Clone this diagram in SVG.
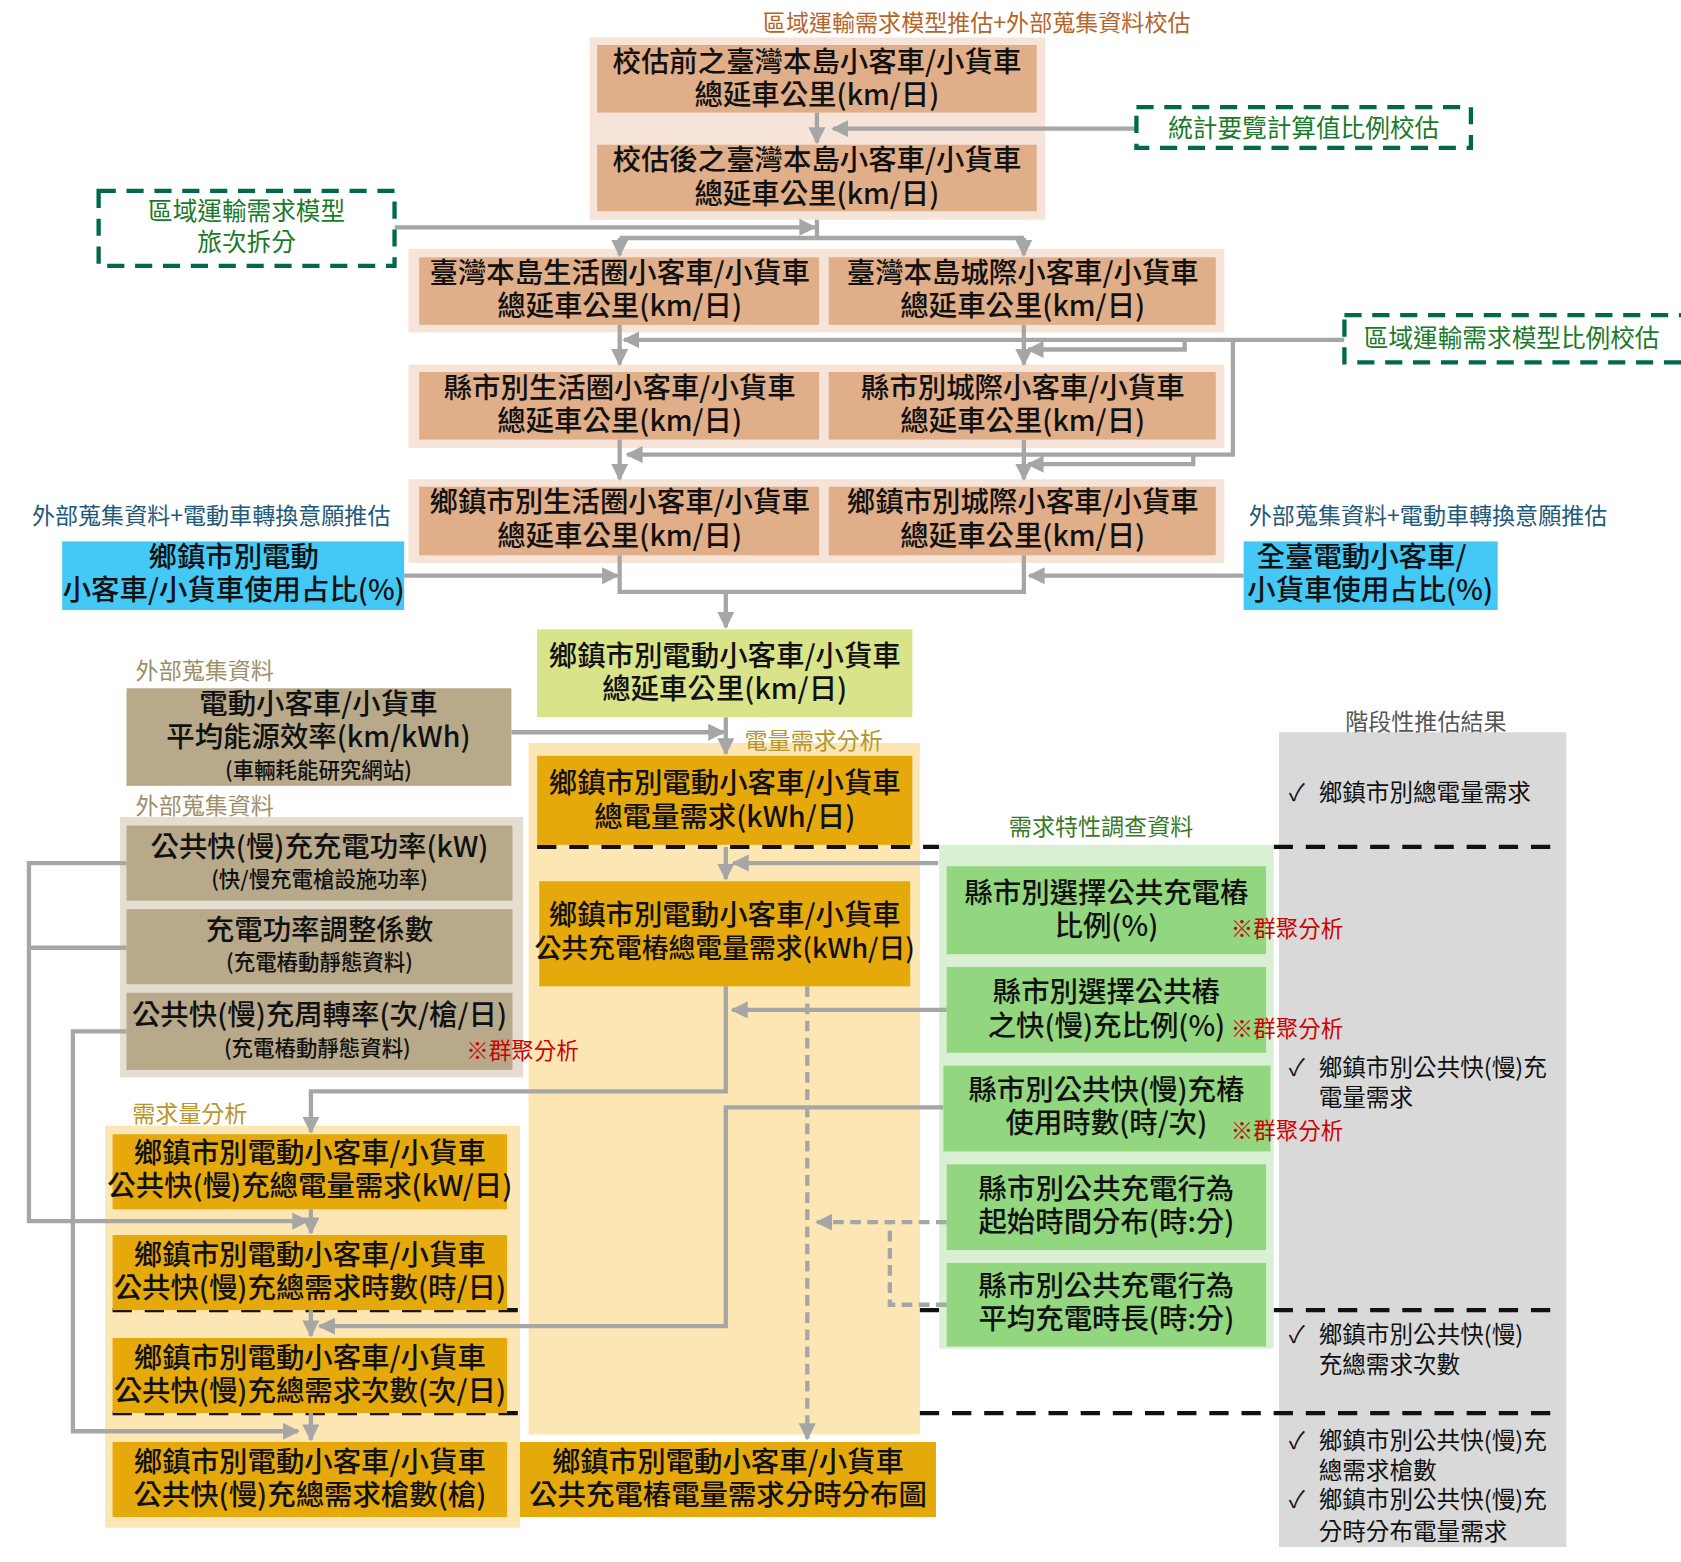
<svg xmlns="http://www.w3.org/2000/svg" width="1681" height="1562" viewBox="0 0 1681 1562">
<style>
text{font-family:"Noto Sans CJK TC","Noto Sans CJK SC",sans-serif;text-anchor:middle}
.t{font-size:26.5px;font-weight:500;fill:#111}
.s{font-size:20px;font-weight:500;fill:#111}
.lab{font-size:21.5px}
.c{fill:none;stroke:#a6a6a6;stroke-width:4}
.d{fill:none;stroke:#a6a6a6;stroke-width:4;stroke-dasharray:10 6}
.k{fill:none;stroke:#111;stroke-width:4;stroke-dasharray:18 12}
.gd{fill:#fff;stroke:#00694d;stroke-width:4;stroke-dasharray:16 10}
.sal{fill:#e0ae88}.pan{fill:#f5e4d7}.tan{fill:#b7a98a}.org{fill:#e6a90c}.grn{fill:#93d680}
.red{font-size:21px;fill:#d00000;text-anchor:start}
.chk{font-size:22px;fill:#111;text-anchor:start}
</style>
<defs><marker id="a" viewBox="0 0 10 10" refX="9" refY="5" markerWidth="4" markerHeight="4" orient="auto" markerUnits="strokeWidth"><path d="M0,0L10,5L0,10z" fill="#a6a6a6"/></marker></defs>
<rect width="1681" height="1562" fill="#fff"/>
<g transform="scale(1.0721)">
<rect x="550" y="35" width="425" height="170" class="pan"/>
<rect x="381" y="232" width="761" height="78" class="pan"/>
<rect x="381" y="340" width="761" height="78" class="pan"/>
<rect x="381" y="447" width="761" height="78" class="pan"/>
<rect x="493" y="693" width="365" height="645" fill="#fce7b4"/>
<rect x="112" y="762" width="376" height="243" fill="#e5ddd0"/>
<rect x="98" y="1050" width="387" height="375" fill="#fce7b4"/>
<rect x="1193" y="683" width="268" height="760" fill="#d9d9d9"/>
<text x="1330" y="681" class="lab" fill="#555">階段性推估結果</text>
<text x="911" y="29" class="lab" fill="#b5652a">區域運輸需求模型推估+外部蒐集資料校估</text>
<text x="197" y="489" class="lab" fill="#1f5a7a">外部蒐集資料+電動車轉換意願推估</text>
<text x="1332" y="489" class="lab" fill="#1f5a7a">外部蒐集資料+電動車轉換意願推估</text>
<text x="191" y="633" class="lab" fill="#9e8f6a">外部蒐集資料</text>
<text x="191" y="759" class="lab" fill="#9e8f6a">外部蒐集資料</text>
<text x="759" y="699" class="lab" fill="#b8962a">電量需求分析</text>
<text x="177" y="1047" class="lab" fill="#b8962a">需求量分析</text>
<text x="1027" y="779" class="lab" fill="#3a7a2a">需求特性調查資料</text>
<g>
<path class="k" d="M501 790H876M1188 790H1455M105 1222H483M858 1222H876M1188 1222H1455M105 1318H483M858 1318H1455"/>
</g>
<rect x="876" y="788" width="312" height="470" fill="#d9f0d3"/>
<g id="connectors">
<path class="c" d="M762 105V133" marker-end="url(#a)"/>
<path class="c" d="M1060 120H777" marker-end="url(#a)"/>
<path class="c" d="M368 212H760" marker-end="url(#a)"/>
<path class="c" d="M762 205V222M578 222H955M578 222V238" marker-end="url(#a)"/>
<path class="c" d="M955 222V238" marker-end="url(#a)"/>
<path class="c" d="M578 303V340" marker-end="url(#a)"/>
<path class="c" d="M955 303V340" marker-end="url(#a)"/>
<path class="c" d="M578 410V447" marker-end="url(#a)"/>
<path class="c" d="M955 410V447" marker-end="url(#a)"/>
<path class="c" d="M1254 317H582" marker-end="url(#a)"/>
<path class="c" d="M1105 317V326H959" marker-end="url(#a)"/>
<path class="c" d="M1150 317V424H585" marker-end="url(#a)"/>
<path class="c" d="M1113 424V433H959" marker-end="url(#a)"/>
<path class="c" d="M377 537H576" marker-end="url(#a)"/>
<path class="c" d="M1160 537H960" marker-end="url(#a)"/>
<path class="c" d="M578 518V552H955V518M677 552V585" marker-end="url(#a)"/>
<path class="c" d="M477 683H675" marker-end="url(#a)"/>
<path class="c" d="M677 669V703" marker-end="url(#a)"/>
<path class="c" d="M677 790V820" marker-end="url(#a)"/>
<path class="c" d="M875 805H684" marker-end="url(#a)"/>
<path class="c" d="M677 920V1018H290V1056" marker-end="url(#a)"/>
<path class="c" d="M883 942H683" marker-end="url(#a)"/>
<path class="c" d="M290 1128V1150" marker-end="url(#a)"/>
<path class="c" d="M290 1222V1246" marker-end="url(#a)"/>
<path class="c" d="M290 1318V1343" marker-end="url(#a)"/>
<path class="c" d="M118 805H27V1139H287" marker-end="url(#a)"/>
<path class="c" d="M118 884H27"/>
<path class="c" d="M118 962H68V1335H278" marker-end="url(#a)"/>
<path class="c" d="M880 1033H677V1237H298" marker-end="url(#a)"/>
<path class="d" d="M753 920V1342" marker-end="url(#a)"/>
<path class="d" d="M883 1140H762" marker-end="url(#a)"/>
<path class="d" d="M883 1217H830V1140"/>
</g>
<g id="n1"><rect x="557" y="42" width="410" height="63" class="sal"/><text class="t" x="762" y="67">校估前之臺灣本島小客車/小貨車</text><text class="t" x="762" y="98">總延車公里(km/日)</text></g>
<g id="n2"><rect x="557" y="135" width="410" height="62" class="sal"/><text class="t" x="762" y="159">校估後之臺灣本島小客車/小貨車</text><text class="t" x="762" y="190">總延車公里(km/日)</text></g>
<g id="n3"><rect x="1060" y="100" width="312" height="38" class="gd"/><text x="1216" y="128" fill="#1a7a2a" style="font-size:23px">統計要覽計算值比例校估</text></g>
<g id="n4"><rect x="92" y="178" width="276" height="70" class="gd"/><text x="230" y="205" fill="#1a7a2a" style="font-size:23px">區域運輸需求模型</text><text x="230" y="234" fill="#1a7a2a" style="font-size:23px">旅次拆分</text></g>
<g id="n5"><rect x="1254" y="294" width="330" height="44" class="gd"/><text x="1410" y="324" fill="#1a7a2a" style="font-size:23px">區域運輸需求模型比例校估</text></g>
<g id="n6"><rect x="391" y="240" width="373" height="63" class="sal"/><text class="t" x="578" y="264">臺灣本島生活圈小客車/小貨車</text><text class="t" x="578" y="295">總延車公里(km/日)</text></g>
<g id="n7"><rect x="773" y="240" width="361" height="63" class="sal"/><text class="t" x="954" y="264">臺灣本島城際小客車/小貨車</text><text class="t" x="954" y="295">總延車公里(km/日)</text></g>
<g id="n8"><rect x="391" y="347" width="373" height="63" class="sal"/><text class="t" x="578" y="371">縣市別生活圈小客車/小貨車</text><text class="t" x="578" y="402">總延車公里(km/日)</text></g>
<g id="n9"><rect x="773" y="347" width="361" height="63" class="sal"/><text class="t" x="954" y="371">縣市別城際小客車/小貨車</text><text class="t" x="954" y="402">總延車公里(km/日)</text></g>
<g id="n10"><rect x="391" y="454" width="373" height="64" class="sal"/><text class="t" x="578" y="478">鄉鎮市別生活圈小客車/小貨車</text><text class="t" x="578" y="509">總延車公里(km/日)</text></g>
<g id="n11"><rect x="773" y="454" width="361" height="64" class="sal"/><text class="t" x="954" y="478">鄉鎮市別城際小客車/小貨車</text><text class="t" x="954" y="509">總延車公里(km/日)</text></g>
<g id="n12"><rect x="58" y="505" width="319" height="64" fill="#44c8f5"/><text class="t" x="218" y="529">鄉鎮市別電動</text><text class="t" x="218" y="560">小客車/小貨車使用占比(%)</text></g>
<g id="n13"><rect x="1160" y="505" width="237" height="64" fill="#44c8f5"/><text class="t" x="1270" y="529">全臺電動小客車/</text><text class="t" x="1278" y="560">小貨車使用占比(%)</text></g>
<g id="n14"><rect x="501" y="587" width="350" height="82" fill="#d9e38a"/><text class="t" x="676" y="621">鄉鎮市別電動小客車/小貨車</text><text class="t" x="676" y="652">總延車公里(km/日)</text></g>
<g id="n15"><rect x="118" y="642" width="359" height="91" class="tan"/><text class="t" x="297" y="666">電動小客車/小貨車</text><text class="t" x="297" y="697">平均能源效率(km/kWh)</text><text class="s" x="297" y="726">(車輛耗能研究網站)</text></g>
<g id="n16"><rect x="501" y="705" width="350" height="83" class="org"/><text class="t" x="676" y="740">鄉鎮市別電動小客車/小貨車</text><text class="t" x="676" y="771">總電量需求(kWh/日)</text></g>
<g id="n17"><rect x="503" y="822" width="346" height="98" class="org"/><text class="t" x="676" y="863">鄉鎮市別電動小客車/小貨車</text><text class="t" x="676" y="894" style="font-size:25px">公共充電樁總電量需求(kWh/日)</text></g>
<g id="n18"><rect x="118" y="770" width="360" height="70" class="tan"/><text class="t" x="298" y="799">公共快(慢)充充電功率(kW)</text><text class="s" x="298" y="827">(快/慢充電槍設施功率)</text></g>
<g id="n19"><rect x="118" y="848" width="360" height="70" class="tan"/><text class="t" x="298" y="877">充電功率調整係數</text><text class="s" x="298" y="905">(充電樁動靜態資料)</text></g>
<g id="n20"><rect x="118" y="926" width="360" height="72" class="tan"/><text class="t" x="298" y="956">公共快(慢)充周轉率(次/槍/日)</text><text class="s" x="296" y="985">(充電樁動靜態資料)</text><text class="red" x="435" y="988">※群聚分析</text></g>
<g id="n21"><rect x="105" y="1058" width="368" height="70" class="org"/><text class="t" x="289" y="1085">鄉鎮市別電動小客車/小貨車</text><text class="t" x="289" y="1116">公共快(慢)充總電量需求(kW/日)</text></g>
<g id="n22"><rect x="105" y="1152" width="368" height="70" class="org"/><text class="t" x="289" y="1180">鄉鎮市別電動小客車/小貨車</text><text class="t" x="289" y="1211">公共快(慢)充總需求時數(時/日)</text></g>
<g id="n23"><rect x="105" y="1248" width="368" height="70" class="org"/><text class="t" x="289" y="1276">鄉鎮市別電動小客車/小貨車</text><text class="t" x="289" y="1307">公共快(慢)充總需求次數(次/日)</text></g>
<g id="n24"><rect x="105" y="1345" width="368" height="70" class="org"/><text class="t" x="289" y="1373">鄉鎮市別電動小客車/小貨車</text><text class="t" x="289" y="1404">公共快(慢)充總需求槍數(槍)</text></g>
<g id="n25"><rect x="485" y="1345" width="388" height="70" class="org"/><text class="t" x="679" y="1373">鄉鎮市別電動小客車/小貨車</text><text class="t" x="679" y="1404">公共充電樁電量需求分時分布圖</text></g>
<g id="n26"><rect x="883" y="808" width="298" height="82" class="grn"/><text class="t" x="1032" y="842">縣市別選擇公共充電樁</text><text class="t" x="1032" y="873">比例(%)</text><text class="red" x="1148" y="874">※群聚分析</text></g>
<g id="n27"><rect x="883" y="902" width="298" height="80" class="grn"/><text class="t" x="1032" y="935">縣市別選擇公共樁</text><text class="t" x="1032" y="966">之快(慢)充比例(%)</text><text class="red" x="1148" y="967">※群聚分析</text></g>
<g id="n28"><rect x="880" y="994" width="305" height="80" class="grn"/><text class="t" x="1032" y="1026">縣市別公共快(慢)充樁</text><text class="t" x="1032" y="1057">使用時數(時/次)</text><text class="red" x="1148" y="1062">※群聚分析</text></g>
<g id="n29"><rect x="883" y="1086" width="298" height="80" class="grn"/><text class="t" x="1032" y="1118">縣市別公共充電行為</text><text class="t" x="1032" y="1149">起始時間分布(時:分)</text></g>
<g id="n30"><rect x="883" y="1178" width="298" height="78" class="grn"/><text class="t" x="1032" y="1209">縣市別公共充電行為</text><text class="t" x="1032" y="1240">平均充電時長(時:分)</text></g>
<g id="results">
<text class="chk" x="1202" y="747">✓</text><text class="chk" x="1230" y="747">鄉鎮市別總電量需求</text>
<text class="chk" x="1202" y="1004">✓</text><text class="chk" x="1230" y="1004">鄉鎮市別公共快(慢)充</text>
<text class="chk" x="1230" y="1032">電量需求</text>
<text class="chk" x="1202" y="1253">✓</text><text class="chk" x="1230" y="1253">鄉鎮市別公共快(慢)</text>
<text class="chk" x="1230" y="1281">充總需求次數</text>
<text class="chk" x="1202" y="1352">✓</text><text class="chk" x="1230" y="1352">鄉鎮市別公共快(慢)充</text>
<text class="chk" x="1230" y="1380">總需求槍數</text>
<text class="chk" x="1202" y="1407">✓</text><text class="chk" x="1230" y="1407">鄉鎮市別公共快(慢)充</text>
<text class="chk" x="1230" y="1436">分時分布電量需求</text>
</g>
</g>
</svg>
